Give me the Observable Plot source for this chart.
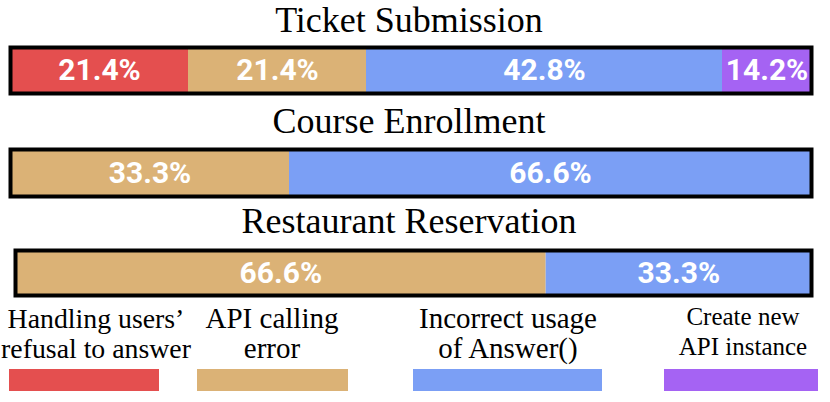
<!DOCTYPE html>
<html><head><meta charset="utf-8">
<script src="https://cdn.jsdelivr.net/npm/d3@7"></script>
<script src="https://cdn.jsdelivr.net/npm/@observablehq/plot@0.6"></script>
<style>
body{margin:0;background:#fff;}
#root{position:relative;width:830px;height:402px;overflow:hidden;font-family:"Liberation Serif","Times New Roman",serif;color:#000;}
.title{position:absolute;left:0;width:818px;text-align:center;font-size:36px;line-height:36px;white-space:nowrap;}
.bar{position:absolute;left:0;}
.bar svg{display:block;}
.leg{position:absolute;text-align:center;white-space:nowrap;transform:translateX(-50%);}
.sw{position:absolute;}
</style></head><body><div id="root"></div>
<script>
// ---- data ----
const categories = ["Handling users’ refusal to answer", "API calling error", "Incorrect usage of Answer()", "Create new API instance"];
const legendLines = [["Handling users’", "refusal to answer"], ["API calling", "error"], ["Incorrect usage", "of Answer()"], ["Create new", "API instance"]];
const colors = ["#E44F4F", "#DBB276", "#7B9FF5", "#A563F3"];
const tasks = ["Ticket Submission", "Course Enrollment", "Restaurant Reservation"];
const ticketValues = [21.4, 21.4, 42.8, 14.2];
const courseValues = [0, 33.3, 66.6, 0];
const restaurantValues = [0, 66.6, 33.3, 0];
const taskValues = [ticketValues, courseValues, restaurantValues];

// ---- layout ----
const W = 830;
const barLayout = [
  {titleTop: 1.8, top: 45, h: 50, left: 10, right: 811, dmax: 96.3},
  {titleTop: 102.8, top: 147, h: 51, left: 10, right: 811, dmax: 95.6},
  {titleTop: 202.8, top: 248, h: 49, left: 15, right: 811, dmax: 99.9}
];
const legendLayout = [
  {cx: 96, top: 303.8, fs: 27.8, sw: [9, 159]},
  {cx: 272, top: 303.3, fs: 29, sw: [197, 348]},
  {cx: 508, top: 303.3, fs: 29, sw: [413, 602]},
  {cx: 743, top: 301.6, fs: 25, sw: [664, 818]}
];

const root = document.getElementById("root");

tasks.forEach((task, i) => {
  const lay = barLayout[i];
  const t = document.createElement("div");
  t.className = "title";
  t.style.top = lay.titleTop + "px";
  t.textContent = task;
  root.appendChild(t);

  let acc = 0;
  const rows = [];
  taskValues[i].forEach((v, k) => {
    if (v > 0) {
      const start = acc, end = acc + v;
      rows.push({category: categories[k], value: v, start, end,
        mid: (start + Math.min(end, lay.dmax)) / 2,
        label: v.toFixed(1) + "%"});
      acc = end;
    }
  });

  const chart = Plot.plot({
    width: W, height: lay.h,
    marginLeft: lay.left, marginRight: W - lay.right, marginTop: 2, marginBottom: 2,
    x: {domain: [0, lay.dmax], axis: null},
    y: {axis: null},
    color: {domain: categories, range: colors},
    style: {background: "transparent", overflow: "visible"},
    marks: [
      Plot.barX(rows, {x1: "start", x2: "end", fill: "category", clip: true}),
      Plot.text(rows, {x: "mid", text: "label", frameAnchor: "middle", fill: "white",
        fontSize: 30, fontWeight: "bold", fontFamily: "Roboto"}),
      Plot.frame({stroke: "black", strokeWidth: 4})
    ]
  });
  const holder = document.createElement("div");
  holder.className = "bar";
  holder.style.top = lay.top + "px";
  holder.appendChild(chart);
  root.appendChild(holder);
});

legendLines.forEach((lines, k) => {
  const lay = legendLayout[k];
  const d = document.createElement("div");
  d.className = "leg";
  d.style.left = lay.cx + "px";
  d.style.top = lay.top + "px";
  d.style.fontSize = lay.fs + "px";
  d.style.lineHeight = "30px";
  d.innerHTML = lines.join("<br>");
  root.appendChild(d);
  const s = document.createElement("div");
  s.className = "sw";
  s.style.left = lay.sw[0] + "px";
  s.style.width = (lay.sw[1] - lay.sw[0]) + "px";
  s.style.top = "369px";
  s.style.height = "22px";
  s.style.background = colors[k];
  root.appendChild(s);
});
</script>
</body></html>
